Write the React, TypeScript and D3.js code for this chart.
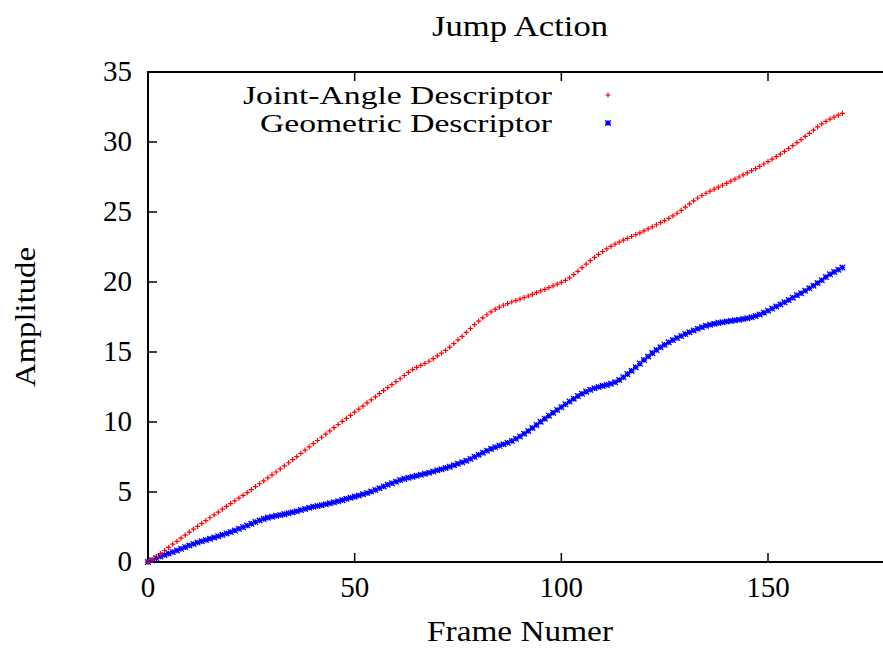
import * as d3 from "d3";

// frame numbers 0..168, one sample per frame
const jointAngle = [
  0.0, 0.15, 0.38, 0.6, 0.82, 1.05, 1.27, 1.48, 1.7, 1.92,
  2.13, 2.35, 2.55, 2.76, 2.96, 3.16, 3.36, 3.56, 3.77, 3.97,
  4.17, 4.37, 4.56, 4.76, 4.96, 5.17, 5.38, 5.59, 5.8, 6.01,
  6.22, 6.43, 6.65, 6.87, 7.09, 7.31, 7.53, 7.76, 7.99, 8.22,
  8.45, 8.68, 8.91, 9.14, 9.37, 9.6, 9.82, 10.04, 10.26, 10.48,
  10.7, 10.92, 11.14, 11.36, 11.58, 11.8, 12.02, 12.24, 12.46, 12.67,
  12.88, 13.09, 13.32, 13.55, 13.74, 13.9, 14.04, 14.18, 14.34, 14.52,
  14.72, 14.92, 15.12, 15.35, 15.6, 15.86, 16.12, 16.4, 16.68, 16.95,
  17.2, 17.44, 17.66, 17.86, 18.04, 18.2, 18.34, 18.46, 18.57, 18.67,
  18.77, 18.88, 19.0, 19.12, 19.24, 19.36, 19.48, 19.6, 19.72, 19.85,
  19.98, 20.12, 20.3, 20.52, 20.76, 21.02, 21.28, 21.53, 21.76, 21.98,
  22.18, 22.37, 22.54, 22.7, 22.85, 22.99, 23.12, 23.25, 23.38, 23.51,
  23.65, 23.79, 23.94, 24.09, 24.24, 24.39, 24.55, 24.72, 24.91, 25.12,
  25.35, 25.58, 25.8, 26.0, 26.18, 26.34, 26.49, 26.63, 26.77, 26.91,
  27.05, 27.2, 27.35, 27.5, 27.65, 27.8, 27.95, 28.1, 28.26, 28.43,
  28.6, 28.78, 28.96, 29.14, 29.33, 29.53, 29.74, 29.95, 30.17, 30.4,
  30.62, 30.85, 31.08, 31.3, 31.48, 31.64, 31.78, 31.92, 32.05,
];

const geometric = [
  0.0, 0.12, 0.28, 0.4, 0.5, 0.6, 0.71, 0.82, 0.94, 1.06,
  1.18, 1.29, 1.39, 1.48, 1.57, 1.66, 1.75, 1.84, 1.94, 2.04,
  2.14, 2.25, 2.37, 2.49, 2.61, 2.73, 2.85, 2.97, 3.08, 3.17,
  3.24, 3.3, 3.36, 3.42, 3.49, 3.56, 3.63, 3.71, 3.79, 3.87,
  3.94, 4.0, 4.06, 4.12, 4.19, 4.26, 4.34, 4.42, 4.51, 4.59,
  4.67, 4.75, 4.84, 4.93, 5.03, 5.14, 5.27, 5.4, 5.52, 5.63,
  5.74, 5.85, 5.94, 6.02, 6.09, 6.16, 6.23, 6.3, 6.38, 6.46,
  6.55, 6.63, 6.72, 6.81, 6.91, 7.01, 7.12, 7.23, 7.36, 7.51,
  7.66, 7.81, 7.95, 8.08, 8.2, 8.31, 8.41, 8.52, 8.65, 8.8,
  8.97, 9.16, 9.36, 9.57, 9.79, 10.02, 10.24, 10.45, 10.66, 10.86,
  11.06, 11.26, 11.46, 11.66, 11.85, 12.02, 12.17, 12.3, 12.41, 12.5,
  12.58, 12.65, 12.73, 12.84, 13.0, 13.2, 13.42, 13.66, 13.91, 14.17,
  14.43, 14.68, 14.92, 15.14, 15.34, 15.52, 15.69, 15.85, 16.0, 16.14,
  16.28, 16.41, 16.54, 16.66, 16.77, 16.87, 16.95, 17.02, 17.08, 17.13,
  17.18, 17.22, 17.26, 17.3, 17.35, 17.41, 17.48, 17.57, 17.68, 17.81,
  17.95, 18.1, 18.25, 18.4, 18.55, 18.71, 18.88, 19.06, 19.2, 19.37,
  19.55, 19.73, 19.93, 20.13, 20.35, 20.55, 20.72, 20.88, 21.03,
];

const xTicks = [0, 50, 100, 150];
const yTicks = [0, 5, 10, 15, 20, 25, 30, 35];
const seriesNames = ["Joint-Angle Descriptor", "Geometric Descriptor"];

const width = 883;
const height = 648;
const font = "'Liberation Serif', 'Times New Roman', serif";

const plus = (cx, cy, r) => `M${cx - r},${cy}H${cx + r}M${cx},${cy - r}V${cy + r}`;
const star = (cx, cy, r) =>
  plus(cx, cy, r) + `M${cx - r},${cy - r}L${cx + r},${cy + r}M${cx - r},${cy + r}L${cx + r},${cy - r}`;

export default function App() {
  const marginLeft = 148;
  const marginTop = 72;
  const plotBottom = 562;
  const plotRight = 892; // box runs past the window edge

  const x = d3.scaleLinear().domain([0, 180]).range([marginLeft, plotRight]);
  const y = d3.scaleLinear().domain([0, 35]).range([plotBottom, marginTop]);

  const redPath = jointAngle.map((v, i) => plus(x(i), y(v), 2.6)).join("");
  const bluePath = geometric.map((v, i) => star(x(i), y(v), 2.8)).join("");

  return (
    <svg width={width} height={height} style={{ position: "absolute", left: 0, top: 0, background: "#fff" }}>
      <rect width={width} height={height} fill="#fff" />
      <g fontFamily={font} fill="#000" fontSize={29}>
        <text x={520} y={36} textAnchor="middle" textLength={176} lengthAdjust="spacingAndGlyphs">Jump Action</text>
        <text x={520} y={641} textAnchor="middle" textLength={186} lengthAdjust="spacingAndGlyphs">Frame Numer</text>
        <text transform={`translate(35,${(marginTop + plotBottom) / 2}) rotate(-90)`} textAnchor="middle"
          textLength={140} lengthAdjust="spacingAndGlyphs">
          Amplitude
        </text>
        {xTicks.map((t) => (
          <text key={"xt" + t} x={x(t)} y={597} textAnchor="middle">{t}</text>
        ))}
        {yTicks.map((t) => (
          <text key={"yt" + t} x={132} y={y(t) + 9} textAnchor="end">{t}</text>
        ))}
      </g>

      <g stroke="#000" strokeWidth={1.5}>
        {xTicks.map((t) => (
          <g key={"xk" + t}>
            <line x1={x(t)} x2={x(t)} y1={plotBottom} y2={plotBottom - 9} />
            <line x1={x(t)} x2={x(t)} y1={marginTop} y2={marginTop + 9} />
          </g>
        ))}
        {yTicks.map((t) => (
          <line key={"yk" + t} x1={marginLeft} x2={marginLeft + 9} y1={y(t)} y2={y(t)} />
        ))}
        <rect x={marginLeft} y={marginTop} width={plotRight - marginLeft} height={plotBottom - marginTop} fill="none" strokeWidth={2} />
      </g>

      <path d={bluePath} stroke="#0000ff" strokeWidth={1.3} fill="none" />
      <path d={redPath} stroke="#ff0000" strokeWidth={1.2} fill="none" />

      {/* legend */}
      <g fontFamily={font} fontSize={25} textAnchor="end">
        <text x={552} y={104} textLength={309} lengthAdjust="spacingAndGlyphs">{seriesNames[0]}</text>
        <text x={552} y={132} textLength={292} lengthAdjust="spacingAndGlyphs">{seriesNames[1]}</text>
      </g>
      <path d={plus(608, 95, 2.6)} stroke="#ff0000" strokeWidth={1.2} fill="none" />
      <path d={star(608, 123, 2.8)} stroke="#0000ff" strokeWidth={1.3} fill="none" />
    </svg>
  );
}
